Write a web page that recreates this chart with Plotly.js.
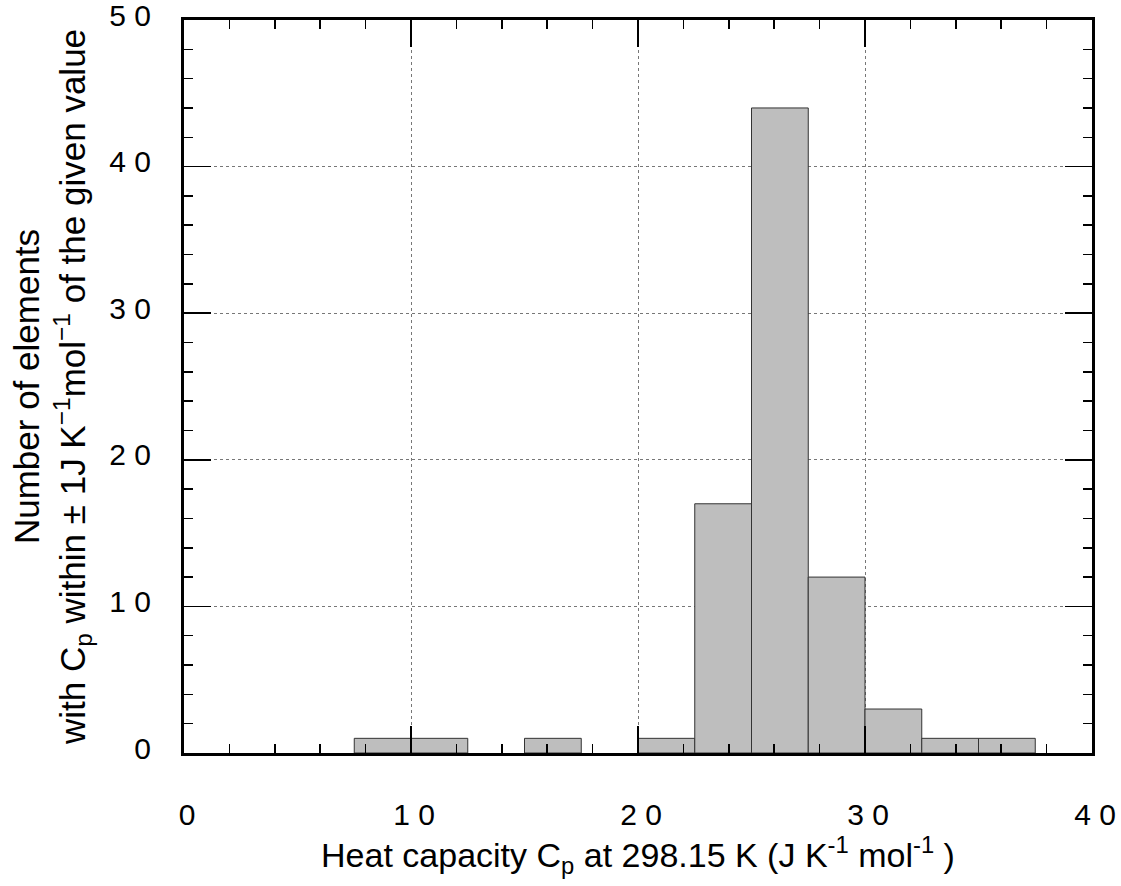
<!DOCTYPE html>
<html>
<head>
<meta charset="utf-8">
<script src="https://cdn.plot.ly/plotly-3.0.1.min.js"></script>
<style>html,body{margin:0;padding:0;background:#fff;}#chart{width:1121px;height:886px;}</style>
</head>
<body>
<div id="chart"></div>
<script>
// Bin centres (bins of width 2.5 J K^-1 mol^-1) and counts
const binCenters = [8.75, 11.25, 16.25, 21.25, 23.75, 26.25, 28.75, 31.25, 33.75, 36.25];
const counts = [1, 1, 1, 1, 17, 44, 12, 3, 1, 1];
const binWidth = 2.5;

const xTickVals = [0, 10, 20, 30, 40];
const xTickText = ['0', '1 0', '2 0', '3 0', '4 0'];
const yTickVals = [0, 10, 20, 30, 40, 50];
const yTickText = ['0', '1 0', '2 0', '3 0', '4 0', '5 0'];

const FONT = 'Liberation Sans, Arial, Helvetica, sans-serif';

const trace = {
  type: 'bar',
  x: binCenters,
  y: counts,
  width: binCenters.map(() => binWidth),
  marker: {color: '#bebebe', line: {color: '#333333', width: 1}},
  hoverinfo: 'x+y'
};

const axisCommon = {
  showline: true, linecolor: '#000', linewidth: 3, mirror: 'allticks',
  ticks: 'inside', ticklen: 27, tickwidth: 1.5, tickcolor: '#000',
  showgrid: true, gridcolor: '#777', griddash: 'dot', gridwidth: 1,
  zeroline: false,
  tickmode: 'array',
  ticklabeloverflow: 'allow',
  tickfont: {family: FONT, size: 30, color: '#000'},
  minor: {dtick: 2, ticks: 'inside', ticklen: 9, tickwidth: 1.5, tickcolor: '#000', showgrid: false}
};

const layout = {
  width: 1121, height: 886,
  margin: {l: 184, r: 29, t: 20, b: 133},
  paper_bgcolor: '#fff', plot_bgcolor: '#fff',
  font: {family: FONT, color: '#000'},
  showlegend: false,
  bargap: 0,
  xaxis: Object.assign({}, axisCommon, {
    range: [0, 40], tickvals: xTickVals, ticktext: xTickText,
    ticklabelstandoff: 33, ticklabelshift: 3,
    title: {text: 'Heat capacity C<sub>p</sub> at 298.15 K (J K<sup>-1</sup> mol<sup>-1</sup> )',
            font: {family: FONT, size: 34, color: '#000'}, standoff: 14}
  }),
  yaxis: Object.assign({}, axisCommon, {
    range: [0, 50], tickvals: yTickVals, ticktext: yTickText,
    ticklabelstandoff: 24, ticklabelshift: -5,
    title: {text: 'Number of elements<br>with C<sub>p</sub> within ± 1J K<sup>−1</sup>mol<sup>−1</sup> of the given value',
            font: {family: FONT, size: 35, color: '#000'}, standoff: 14}
  })
};

Plotly.newPlot('chart', [trace], layout, {displayModeBar: false, staticPlot: true});
</script>
</body>
</html>
